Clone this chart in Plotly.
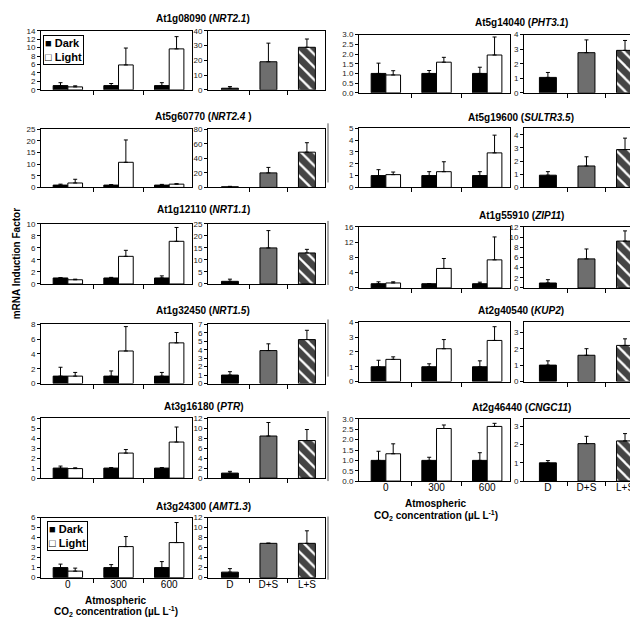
import plotly.graph_objects as go

W, H = 638, 618

co2_levels = ["0", "300", "600"]
treatments = ["D", "D+S", "L+S"]

# ---- left column genes ----
nrt21_dark = [1.0, 1.0, 1.0]
nrt21_dark_err = [0.7, 0.5, 0.7]
nrt21_light = [0.7, 5.9, 9.7]
nrt21_light_err = [0.25, 4.0, 2.9]
nrt21_trt = [1.1, 19.0, 28.8]
nrt21_trt_err = [1.1, 12.6, 5.6]

nrt24_dark = [1.0, 1.0, 1.0]
nrt24_dark_err = [0.4, 0.2, 0.3]
nrt24_light = [1.9, 10.8, 1.4]
nrt24_light_err = [1.6, 9.6, 0.2]
nrt24_trt = [0.9, 20.0, 48.5]
nrt24_trt_err = [0.6, 7.5, 13.0]

nrt11_dark = [1.0, 1.0, 1.0]
nrt11_dark_err = [0.05, 0.1, 0.35]
nrt11_light = [0.7, 4.6, 7.1]
nrt11_light_err = [0.1, 1.0, 2.3]
nrt11_trt = [1.1, 15.0, 12.9]
nrt11_trt_err = [0.9, 7.2, 1.5]

nrt15_dark = [1.0, 1.0, 1.0]
nrt15_dark_err = [1.2, 0.7, 0.5]
nrt15_light = [1.0, 4.4, 5.5]
nrt15_light_err = [0.5, 3.3, 1.4]
nrt15_trt = [1.0, 3.9, 5.2]
nrt15_trt_err = [0.4, 0.8, 1.1]

ptr_dark = [1.0, 1.0, 1.0]
ptr_dark_err = [0.2, 0.05, 0.05]
ptr_light = [0.95, 2.5, 3.6]
ptr_light_err = [0.08, 0.35, 1.5]
ptr_trt = [1.0, 8.4, 7.5]
ptr_trt_err = [0.35, 2.7, 2.2]

amt13_dark = [1.0, 1.0, 1.0]
amt13_dark_err = [0.35, 0.3, 0.6]
amt13_light = [0.65, 3.1, 3.5]
amt13_light_err = [0.3, 1.0, 2.0]
amt13_trt = [1.1, 6.85, 6.85]
amt13_trt_err = [0.7, 0.05, 2.5]

# ---- right column genes ----
pht31_dark = [1.0, 1.0, 1.0]
pht31_dark_err = [0.53, 0.15, 0.32]
pht31_light = [0.92, 1.58, 1.95]
pht31_light_err = [0.22, 0.25, 0.93]
pht31_trt = [1.06, 2.76, 2.92]
pht31_trt_err = [0.34, 0.88, 0.68]

sultr35_dark = [1.0, 1.0, 1.0]
sultr35_dark_err = [0.5, 0.33, 0.33]
sultr35_light = [1.08, 1.33, 2.92]
sultr35_light_err = [0.22, 0.84, 1.5]
sultr35_trt = [0.93, 1.63, 2.88]
sultr35_trt_err = [0.27, 0.7, 0.87]

zip11_dark = [1.1, 1.1, 1.1]
zip11_dark_err = [0.5, 0.0, 0.4]
zip11_light = [1.3, 5.1, 7.35]
zip11_light_err = [0.3, 2.6, 6.0]
zip11_trt = [0.97, 5.7, 9.2]
zip11_trt_err = [0.65, 1.95, 2.0]

kup2_dark = [1.0, 1.0, 1.0]
kup2_dark_err = [0.44, 0.2, 0.4]
kup2_light = [1.5, 2.22, 2.78]
kup2_light_err = [0.17, 0.62, 0.93]
kup2_trt = [1.0, 1.6, 2.2]
kup2_trt_err = [0.26, 0.4, 0.4]

cngc11_dark = [1.0, 1.0, 1.0]
cngc11_dark_err = [0.44, 0.15, 0.37]
cngc11_light = [1.32, 2.54, 2.64]
cngc11_light_err = [0.48, 0.17, 0.15]
cngc11_trt = [1.0, 2.05, 2.2]
cngc11_trt_err = [0.12, 0.4, 0.4]

# panel table: (locus, gene, data..., left y max/dtick, right y max/dtick, column, top px, bottom px, title px)
panels = [
    ("At1g08090", "NRT2.1", nrt21_dark, nrt21_dark_err, nrt21_light, nrt21_light_err, nrt21_trt, nrt21_trt_err, 14, 2, 40, 10, 0, 19, 79, 7),
    ("At5g60770", "NRT2.4 ", nrt24_dark, nrt24_dark_err, nrt24_light, nrt24_light_err, nrt24_trt, nrt24_trt_err, 25, 5, 80, 20, 0, 119, 178, 106),
    ("At1g12110", "NRT1.1", nrt11_dark, nrt11_dark_err, nrt11_light, nrt11_light_err, nrt11_trt, nrt11_trt_err, 10, 2, 25, 5, 0, 215, 276, 200),
    ("At1g32450", "NRT1.5", nrt15_dark, nrt15_dark_err, nrt15_light, nrt15_light_err, nrt15_trt, nrt15_trt_err, 8, 2, 7, 1, 0, 317, 377, 303),
    ("At3g16180", "PTR", ptr_dark, ptr_dark_err, ptr_light, ptr_light_err, ptr_trt, ptr_trt_err, 6, 1, 12, 2, 0, 412, 473, 400),
    ("At3g24300", "AMT1.3", amt13_dark, amt13_dark_err, amt13_light, amt13_light_err, amt13_trt, amt13_trt_err, 6, 1, 12, 2, 0, 513, 574, 502),
    ("At5g14040", "PHT3.1", pht31_dark, pht31_dark_err, pht31_light, pht31_light_err, pht31_trt, pht31_trt_err, 3, 0.5, 4, 1, 1, 23, 82, 11),
    ("At5g19600", "SULTR3.5", sultr35_dark, sultr35_dark_err, sultr35_light, sultr35_light_err, sultr35_trt, sultr35_trt_err, 5, 1, 4.5, 1, 1, 118, 178, 107),
    ("At1g55910", "ZIP11", zip11_dark, zip11_dark_err, zip11_light, zip11_light_err, zip11_trt, zip11_trt_err, 16, 4, 12, 2, 1, 218, 280, 207),
    ("At2g40540", "KUP2", kup2_dark, kup2_dark_err, kup2_light, kup2_light_err, kup2_trt, kup2_trt_err, 4, 1, 3.6, 1, 1, 315, 375, 303),
    ("At2g46440", "CNGC11", cngc11_dark, cngc11_dark_err, cngc11_light, cngc11_light_err, cngc11_trt, cngc11_trt_err, 3, 0.5, 3.4, 1, 1, 413, 476, 401),
]

FONT = "Arial, Liberation Sans, sans-serif"
col_x = [  # (left subplot px range, left x range, right subplot px range, right x range, title x)
    ((33, 184), (-0.53, 2.45), (200, 317), (-0.57, 2.47), 195),
    ((351, 502), (-0.53, 2.45), (516, 634), (-0.62, 2.44), 513),
]
bottom_panels = {5, 10}

fig = go.Figure()
layout = {}
annotations = []
shapes = []


def px_x(v):
    return v / W


def px_y(v):
    return 1 - v / H


ax = 0
for i, (locus, gene, dk, dke, lt, lte, tr, tre, ylmax, yldt, yrmax, yrdt, col, top, bot, ty) in enumerate(panels):
    (lx0, lx1), lrange, (rx0, rx1), rrange, tx = col_x[col]
    show_lbl = i in bottom_panels
    xidx = list(range(len(co2_levels)))
    # left subplot: dark / light by CO2 level
    ax += 1
    xa, ya = f"x{ax}", f"y{ax}"
    fig.add_trace(go.Bar(x=xidx, y=dk, width=0.29, offset=-0.29, xaxis=xa, yaxis=ya,
                         marker=dict(color="black", line=dict(color="black", width=1)),
                         error_y=dict(type="data", array=dke, arrayminus=[0] * 3, symmetric=False,
                                      color="black", thickness=1, width=2),
                         name="Dark", showlegend=False))
    fig.add_trace(go.Bar(x=xidx, y=lt, width=0.29, offset=0.0, xaxis=xa, yaxis=ya,
                         marker=dict(color="white", line=dict(color="black", width=1)),
                         error_y=dict(type="data", array=lte, arrayminus=[0] * 3, symmetric=False,
                                      color="black", thickness=1, width=2),
                         name="Light", showlegend=False))
    fmt = ".1f" if yldt < 1 else ""
    layout[f"xaxis{ax}"] = dict(domain=[px_x(lx0), px_x(lx1)], anchor=ya, range=list(lrange),
                                tickmode="array", tickvals=xidx, ticktext=co2_levels,
                                showticklabels=show_lbl, ticks="", ticklabelstandoff=-3,
                                minor=dict(tickmode="array", tickvals=[0.5, 1.5], ticks="outside",
                                           ticklen=4, tickcolor="black", showgrid=False),
                                showline=True, linecolor="black", linewidth=1, mirror=True,
                                showgrid=False, zeroline=False,
                                tickfont=dict(size=10, color="black", family=FONT))
    layout[f"yaxis{ax}"] = dict(domain=[px_y(bot), px_y(top)], anchor=xa, range=[0, ylmax],
                                dtick=yldt, tick0=0, tickformat=fmt, ticks="outside", ticklen=3,
                                tickcolor="black", showline=True, linecolor="black", linewidth=1,
                                mirror=True, showgrid=False, zeroline=False,
                                tickfont=dict(size=8, color="#222", family=FONT))
    # right subplot: D, D+S, L+S
    ax += 1
    xa, ya = f"x{ax}", f"y{ax}"
    fig.add_trace(go.Bar(x=xidx, y=tr, width=0.44, xaxis=xa, yaxis=ya,
                         marker=dict(color=["black", "#6e6e6e", "white"],
                                     line=dict(color="black", width=1),
                                     pattern=dict(shape=["", "", "\\"], fgcolor="black",
                                                  bgcolor="white", fgopacity=1,
                                                  size=9, solidity=0.75)),
                         error_y=dict(type="data", array=tre, arrayminus=[0] * 3, symmetric=False,
                                      color="black", thickness=1, width=2),
                         name="treatment", showlegend=False))
    fmt = ".1f" if yrdt < 1 else ""
    layout[f"xaxis{ax}"] = dict(domain=[px_x(rx0), px_x(rx1)], anchor=ya, range=list(rrange),
                                tickmode="array", tickvals=xidx, ticktext=treatments,
                                showticklabels=show_lbl, ticks="", ticklabelstandoff=-3,
                                minor=dict(tickmode="array", tickvals=[0.5, 1.5], ticks="outside",
                                           ticklen=4, tickcolor="black", showgrid=False),
                                showline=True, linecolor="black", linewidth=1, mirror=True,
                                showgrid=False, zeroline=False,
                                tickfont=dict(size=10, color="black", family=FONT))
    layout[f"yaxis{ax}"] = dict(domain=[px_y(bot), px_y(top)], anchor=xa, range=[0, yrmax],
                                dtick=yrdt, tick0=0, tickformat=fmt, ticks="outside", ticklen=3,
                                tickcolor="black", showline=True, linecolor="black", linewidth=1,
                                mirror=True, showgrid=False, zeroline=False,
                                tickfont=dict(size=8, color="#222", family=FONT))
    annotations.append(dict(text=f"<b>{locus} (<i>{gene}</i>)</b>", x=px_x(tx), y=px_y(ty),
                            xref="paper", yref="paper", xanchor="center", yanchor="middle",
                            showarrow=False, font=dict(size=10, color="black", family=FONT)))

# legends drawn as boxed text (panel 1 and panel 6)
for lx, ly in [(35, 23), (39, 517)]:
    annotations.append(dict(text="<b>■ Dark<br>□ Light</b>", x=px_x(lx), y=px_y(ly), xref="paper", yref="paper",
                            xanchor="left", yanchor="top", showarrow=False, align="left",
                            bordercolor="black", borderwidth=1, borderpad=1, bgcolor="white",
                            font=dict(size=11, color="black", family=FONT)))

# x-axis titles
for cx, y1, y2 in [(108, 597, 608), (428, 499, 511)]:
    annotations.append(dict(text="<b>Atmospheric</b>", x=px_x(cx), y=px_y(y1), xref="paper", yref="paper",
                            xanchor="center", yanchor="middle", showarrow=False,
                            font=dict(size=10, color="black", family=FONT)))
    annotations.append(dict(text="<b>CO<sub>2</sub> concentration (µL L<sup>-1</sup>)</b>", x=px_x(cx),
                            y=px_y(y2), xref="paper", yref="paper", xanchor="center", yanchor="middle",
                            showarrow=False, font=dict(size=10, color="black", family=FONT)))

# y-axis title
annotations.append(dict(text="<b>mRNA Induction Factor</b>", x=px_x(8), y=px_y(256), xref="paper", yref="paper",
                        xanchor="center", yanchor="middle", textangle=-90, showarrow=False,
                        font=dict(size=10, color="black", family=FONT)))

# separator segments
for y0, y1 in [(113, 173), (212, 277), (312, 370), (405, 476), (512, 576)]:
    shapes.append(dict(type="line", xref="paper", yref="paper", x0=px_x(320), x1=px_x(320),
                       y0=px_y(y0), y1=px_y(y1), line=dict(color="#555", width=1)))

fig.update_layout(width=W, height=H, margin=dict(l=0, r=0, t=0, b=0), autosize=False,
                  paper_bgcolor="white", plot_bgcolor="white", barmode="overlay",
                  showlegend=False, annotations=annotations, shapes=shapes,
                  font=dict(family=FONT, color="black"), **layout)

fig.write_html("out.html")
